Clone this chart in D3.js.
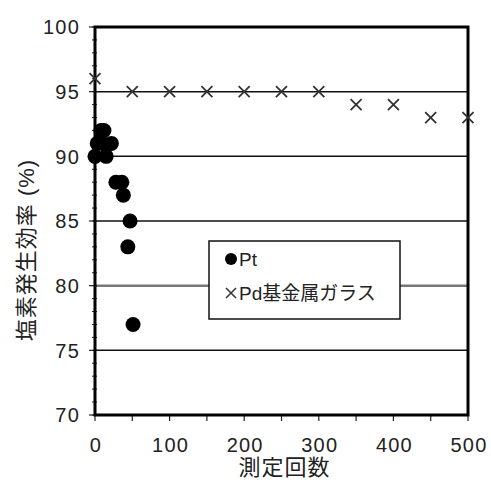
<!DOCTYPE html>
<html>
<head>
<meta charset="utf-8">
<script src="https://cdn.jsdelivr.net/npm/d3@7"></script>
<style>
  body { margin: 0; background: #fff; }
  text { font-family: "Liberation Sans", Arial, "Noto Sans CJK JP", sans-serif; fill: #222; }
</style>
</head>
<body>
<div id="chart"></div>
<script>
// data
const ptCount = [0, 3, 8, 12, 10, 15, 22, 28, 36, 38, 47, 44, 51]
const ptEff   = [90, 91, 92, 92, 91, 90, 91, 88, 88, 87, 85, 83, 77]

const pdCount = [0, 50, 100, 150, 200, 250, 300, 350, 400, 450, 500]
const pdEff   = [96, 95, 95, 95, 95, 95, 95, 94, 94, 93, 93]

const xTicks = [0, 100, 200, 300, 400, 500]
const yTicks = [70, 75, 80, 85, 90, 95, 100]
const gridLines = [75, 80, 85, 90, 95]

const legendLabels = ["Pt", "Pd基金属ガラス"]

const width = 491, height = 480
const margin = {top: 27, right: 23, bottom: 65, left: 95}

const svg = d3.select("#chart").append("svg")
  .attr("width", width)
  .attr("height", height)

const x = d3.scaleLinear().domain([0, 500]).range([margin.left, width - margin.right])
const y = d3.scaleLinear().domain([70, 100]).range([height - margin.bottom, margin.top])

// horizontal grid lines, the 80 one is grey and heavier
svg.append("g")
  .selectAll("line")
  .data(gridLines)
  .enter().append("line")
  .attr("x1", x(0)).attr("x2", x(500))
  .attr("y1", d => y(d)).attr("y2", d => y(d))
  .attr("stroke", d => d === 80 ? "#777" : "#111")
  .attr("stroke-width", d => d === 80 ? 2.5 : 1.5)

// y axis: major ticks every 5, minor every 1
const yAxis = svg.append("g").attr("transform", "translate(" + x(0) + ",0)")
yAxis.selectAll("line.minor")
  .data(d3.range(70, 101, 1))
  .enter().append("line")
  .attr("x1", -3).attr("x2", 2)
  .attr("y1", d => y(d)).attr("y2", d => y(d))
  .attr("stroke", "#222").attr("stroke-width", 1)
yAxis.selectAll("line.major")
  .data(yTicks)
  .enter().append("line")
  .attr("x1", -6).attr("x2", 0)
  .attr("y1", d => y(d)).attr("y2", d => y(d))
  .attr("stroke", "#222").attr("stroke-width", 1.2)
yAxis.selectAll("text")
  .data(yTicks)
  .enter().append("text")
  .attr("x", -15)
  .attr("y", d => y(d))
  .attr("dy", "0.36em")
  .attr("text-anchor", "end")
  .attr("font-size", 20)
  .attr("letter-spacing", 1.2)
  .text(d => d)

// x axis: major ticks every 100, minor every 50
const xAxis = svg.append("g").attr("transform", "translate(0," + y(70) + ")")
xAxis.selectAll("line")
  .data(d3.range(0, 501, 50))
  .enter().append("line")
  .attr("x1", d => x(d)).attr("x2", d => x(d))
  .attr("y1", 0).attr("y2", 6)
  .attr("stroke", "#222").attr("stroke-width", 1.2)
xAxis.selectAll("text")
  .data(xTicks)
  .enter().append("text")
  .attr("x", d => x(d) + 1)
  .attr("y", 37)
  .attr("text-anchor", "middle")
  .attr("font-size", 20)
  .attr("letter-spacing", 1.2)
  .text(d => d)

// frame
svg.append("rect")
  .attr("x", x(0)).attr("y", y(100))
  .attr("width", x(500) - x(0)).attr("height", y(70) - y(100))
  .attr("fill", "none")
  .attr("stroke", "#000")
  .attr("stroke-width", 3)

// axis titles
svg.append("text")
  .attr("transform", "translate(34,250) rotate(-90)")
  .attr("text-anchor", "middle")
  .attr("font-size", 22)
  .attr("letter-spacing", 1)
  .text("塩素発生効率 (%)")

svg.append("text")
  .attr("x", (x(0) + x(500)) / 2 + 3)
  .attr("y", 475)
  .attr("text-anchor", "middle")
  .attr("font-size", 22)
  .attr("letter-spacing", 1)
  .text("測定回数")

// cross marker path
function cross(cx, cy, s) {
  return "M" + (cx - s) + "," + (cy - s) + "L" + (cx + s) + "," + (cy + s) +
    "M" + (cx - s) + "," + (cy + s) + "L" + (cx + s) + "," + (cy - s)
}

// Pd series
svg.append("g")
  .selectAll("path")
  .data(pdCount.map((c, i) => ({c: c, e: pdEff[i]})))
  .enter().append("path")
  .attr("d", d => cross(x(d.c), y(d.e), 5.5))
  .attr("stroke", "#333")
  .attr("stroke-width", 1.8)
  .attr("fill", "none")

// Pt series
svg.append("g")
  .selectAll("circle")
  .data(ptCount.map((c, i) => ({c: c, e: ptEff[i]})))
  .enter().append("circle")
  .attr("cx", d => x(d.c))
  .attr("cy", d => y(d.e))
  .attr("r", 7.5)
  .attr("fill", "#000")

// legend
const legend = svg.append("g").attr("transform", "translate(209,241)")
legend.append("rect")
  .attr("width", 191).attr("height", 78)
  .attr("fill", "#fff")
  .attr("stroke", "#111")
  .attr("stroke-width", 1.5)
legend.append("circle")
  .attr("cx", 22).attr("cy", 18)
  .attr("r", 6).attr("fill", "#000")
legend.append("path")
  .attr("d", cross(22, 52, 5))
  .attr("stroke", "#333").attr("stroke-width", 1.5)
legend.selectAll("text")
  .data(legendLabels)
  .enter().append("text")
  .attr("x", 30)
  .attr("y", (d, i) => 18 + i * 34)
  .attr("dy", "0.36em")
  .attr("font-size", 19)
  .text(d => d)
</script>
</body>
</html>
